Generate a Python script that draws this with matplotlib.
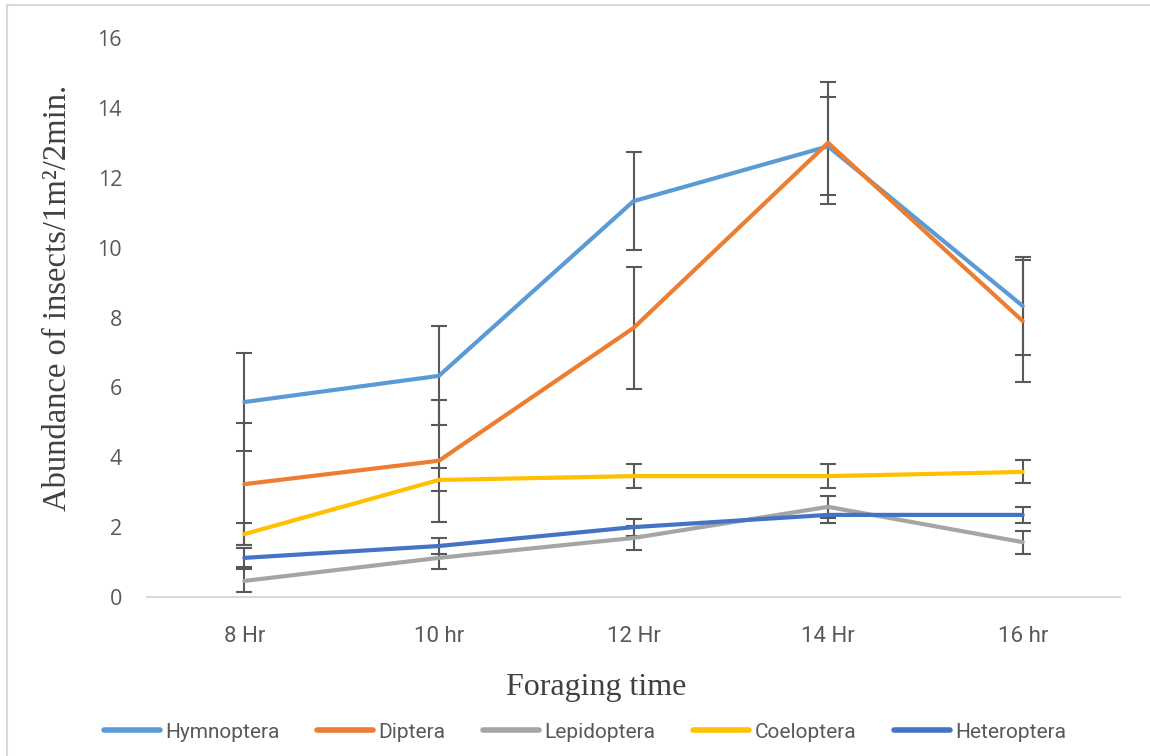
import matplotlib
matplotlib.use('Agg')
import matplotlib.pyplot as plt
from matplotlib.patches import Rectangle
import numpy as np

# --- data ---
times = ['8 Hr', '10 hr', '12 Hr', '14 Hr', '16 hr']
hymnoptera = [5.58, 6.33, 11.33, 12.90, 8.33]
diptera = [3.23, 3.90, 7.70, 13.00, 7.90]
lepidoptera = [0.46, 1.12, 1.69, 2.58, 1.57]
coeloptera = [1.80, 3.35, 3.46, 3.46, 3.58]
heteroptera = [1.12, 1.46, 2.00, 2.35, 2.35]

# standard errors (half length of each error bar)
hymnoptera_err = [1.40, 1.42, 1.41, 1.40, 1.40]
diptera_err = [1.75, 1.75, 1.75, 1.75, 1.75]
lepidoptera_err = [0.33, 0.33, 0.35, 0.32, 0.33]
coeloptera_err = [0.32, 0.33, 0.34, 0.34, 0.33]
heteroptera_err = [0.27, 0.23, 0.24, 0.24, 0.24]

names = ['Hymnoptera', 'Diptera', 'Lepidoptera', 'Coeloptera', 'Heteroptera']
colors = ['#5B9BD5', '#ED7D31', '#A5A5A5', '#FFC000', '#4472C4']
series = [hymnoptera, diptera, lepidoptera, coeloptera, heteroptera]
errors = [hymnoptera_err, diptera_err, lepidoptera_err, coeloptera_err, heteroptera_err]

narrow = ['Roboto', 'DejaVu Sans']
serif = ['Liberation Serif', 'DejaVu Serif']
grey = '#595959'

fig = plt.figure(figsize=(11.5, 7.56), dpi=100)
ax = fig.add_axes([147 / 1150, 1 - 597 / 756, 973 / 1150, 559 / 756])

x = np.arange(len(times))
lines = []
for vals, err, name, col in zip(series, errors, names, colors):
    # error bars under the lines, like Excel draws them
    ax.errorbar(x, vals, yerr=err, fmt='none', ecolor=grey, elinewidth=1.5,
                capsize=6, capthick=1.5, zorder=2)
    ln, = ax.plot(x, vals, color=col, lw=3, label=name, zorder=3,
                  solid_joinstyle='round', solid_capstyle='round')
    lines.append(ln)

ax.set_xlim(-0.5, 4.5)
ax.set_ylim(0, 16)
ax.set_yticks(np.arange(0, 17, 2))
ax.set_xticks(x)
ax.set_xticklabels(times, family=narrow, fontsize=16, color=grey)
for lab in ax.get_yticklabels():
    lab.set_family(['Open Sans', 'DejaVu Sans'])
    lab.set_fontsize(15.5)
    lab.set_color(grey)

ax.tick_params(axis='both', length=0)
ax.tick_params(axis='y', pad=18)
ax.tick_params(axis='x', pad=21)
for side in ['top', 'right', 'left']:
    ax.spines[side].set_visible(False)
ax.spines['bottom'].set_color('#D9D9D9')
ax.spines['bottom'].set_linewidth(1.5)

ax.set_xlabel('Foraging time', family=serif, fontsize=23, color='#404040',
              va='center')
ax.xaxis.set_label_coords((596 - 147) / 973, -(688 - 597) / 559)
ax.set_ylabel('Abundance of insects/1m\u00b2/2min.', family=serif,
              fontsize=23.5, color='#404040', va='center')
ax.yaxis.set_label_coords((58 - 147) / 973, (597 - 298) / 559)

leg = fig.legend(handles=lines, loc='center',
                 bbox_to_anchor=(585 / 1150, 1 - 732 / 756),
                 ncol=5, frameon=False, handlelength=2.7, handletextpad=0.25,
                 columnspacing=1.8, prop={'family': narrow, 'size': 15})
for t in leg.get_texts():
    t.set_color(grey)
for h in leg.legend_handles:
    h.set_linewidth(4)

# light chart-area border
fig.patches.append(Rectangle((7 / 1150, -0.02), 1.05, 1.02 - 5 / 756,
                             transform=fig.transFigure, fill=False,
                             edgecolor='#D9D9D9', lw=1.5))

fig.savefig('out.png', dpi=100)
